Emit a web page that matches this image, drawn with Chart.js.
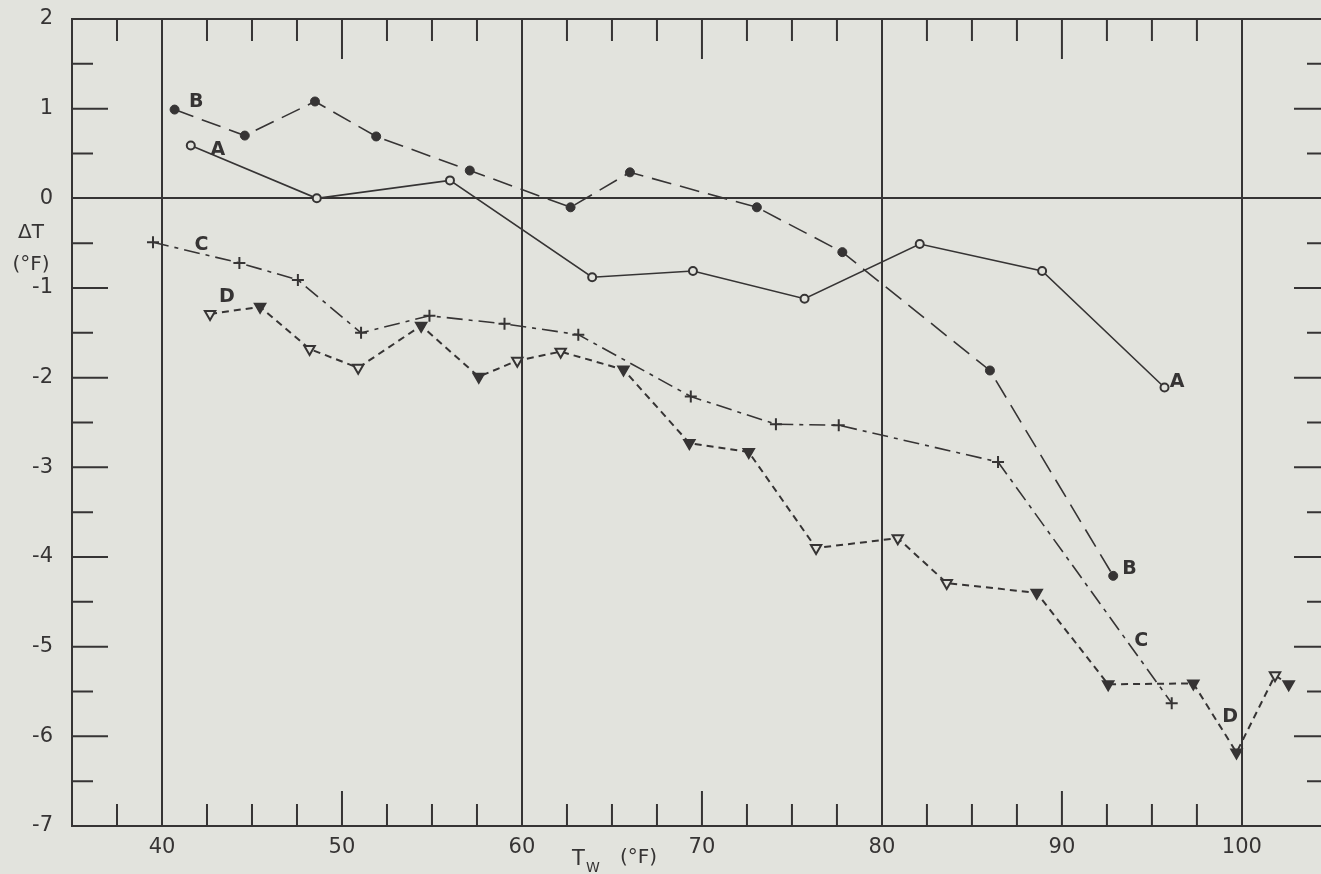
<!DOCTYPE html>
<html>
<head>
<meta charset="utf-8">
<script src="https://cdn.jsdelivr.net/npm/chart.js@4.4.1/dist/chart.umd.min.js"></script>
<style>
html, body { margin: 0; padding: 0; background: #e2e3dd; overflow: hidden; }
canvas { display: block; }
</style>
</head>
<body>
<canvas id="grafico-tw" width="1330" height="874"></canvas>
<script>
// Datos: Tw (°F) vs ΔT (°F)
const tA = [41.6, 48.6, 56.0, 63.9, 69.5, 75.7, 82.1, 88.9, 95.7];
const dA = [0.59, 0.00, 0.20, -0.88, -0.81, -1.12, -0.51, -0.81, -2.11];

const tB = [40.7, 44.6, 48.5, 51.9, 57.1, 62.7, 66.0, 73.05, 77.8, 86.0, 92.85];
const dB = [0.99, 0.70, 1.08, 0.69, 0.31, -0.10, 0.29, -0.10, -0.60, -1.92, -4.21];

const tC = [39.5, 44.3, 47.55, 51.06, 54.86, 59.03, 63.13, 69.38, 74.11, 77.6, 86.45, 96.1];
const dC = [-0.49, -0.72, -0.91, -1.50, -1.31, -1.40, -1.52, -2.21, -2.52, -2.53, -2.94, -5.63];

const tD = [42.67, 45.45, 48.2, 50.9, 54.4, 57.6, 59.74, 62.15, 65.64, 69.3, 72.6, 76.34, 80.88, 83.6, 88.6, 92.57, 97.3, 99.7, 101.84, 102.6];
const dD = [-1.29, -1.21, -1.68, -1.89, -1.42, -1.99, -1.81, -1.71, -1.91, -2.73, -2.83, -3.90, -3.79, -4.29, -4.40, -5.42, -5.41, -6.18, -5.32, -5.42];
// triangulos huecos (true) o rellenos (false)
const huecoD = [true, false, true, true, false, false, true, true, false, false, false, true, true, true, false, false, false, false, true, false];

// letras de cada curva, en coordenadas de datos
const letras = ['B', 'A', 'C', 'D', 'A', 'B', 'C', 'D'];
const letrasX = [41.9, 43.1, 42.2, 43.6, 96.4, 93.75, 94.4, 99.35];
const letrasY = [1.07, 0.54, -0.52, -1.10, -2.05, -4.13, -4.94, -5.78];

const lineasX = [40, 60, 80, 100];
const fondo = '#e2e3dd';
const tinta = '#363434';
const fuente = '"DejaVu Sans", sans-serif';

function puntos(xs, ys) {
    return xs.map((x, i) => ({ x: x, y: ys[i] }));
}

const decorado = {
    id: 'decorado',
    beforeDraw(chart) {
        const c = chart.ctx;
        c.save();
        c.fillStyle = fondo;
        c.fillRect(0, 0, chart.width, chart.height);
        c.restore();
    },
    afterDraw(chart) {
        const c = chart.ctx;
        const a = chart.chartArea;
        const sx = chart.scales.x;
        const sy = chart.scales.y;
        c.save();
        c.strokeStyle = tinta;
        c.lineWidth = 2;
        // borde superior
        c.beginPath();
        c.moveTo(a.left, a.top);
        c.lineTo(a.right, a.top);
        c.stroke();
        // marcas hacia adentro en x
        sx.ticks.forEach(t => {
            const v = t.value;
            if (Math.abs(v / 2.5 - Math.round(v / 2.5)) > 1e-6) return;
            if (v <= sx.min || v >= sx.max) return;
            if (lineasX.includes(v)) return;
            const largo = (v % 10 === 0);
            const px = sx.getPixelForValue(v);
            c.beginPath();
            c.moveTo(px, a.top);
            c.lineTo(px, a.top + (largo ? 40 : 22));
            c.moveTo(px, a.bottom);
            c.lineTo(px, a.bottom - (largo ? 35 : 22));
            c.stroke();
        });
        // marcas hacia adentro en y (izquierda y derecha)
        sy.ticks.forEach(t => {
            const v = t.value;
            if (v <= sy.min || v >= sy.max || v === 0) return;
            const entero = Number.isInteger(v);
            const py = sy.getPixelForValue(v);
            c.beginPath();
            c.moveTo(a.left, py);
            c.lineTo(a.left + (entero ? 36 : 21), py);
            c.moveTo(a.right, py);
            c.lineTo(a.right - (entero ? 28 : 15), py);
            c.stroke();
        });
        // letras de las curvas
        c.fillStyle = tinta;
        c.font = 'bold 19px ' + fuente;
        c.textAlign = 'center';
        c.textBaseline = 'middle';
        letras.forEach((l, i) => {
            c.fillText(l, sx.getPixelForValue(letrasX[i]), sy.getPixelForValue(letrasY[i]));
        });
        // titulos de ejes
        c.font = '20px ' + fuente;
        c.fillText('\u0394T', 31, 233);
        c.fillText('(\u00b0F)', 31, 265);
        c.textAlign = 'left';
        c.font = '21px ' + fuente;
        c.fillText('T', 572, 860);
        c.font = '14px ' + fuente;
        c.fillText('W', 586, 868);
        c.font = '20px ' + fuente;
        c.fillText('(\u00b0F)', 620, 858);
        c.restore();
    }
};

const ctx = document.getElementById('grafico-tw').getContext('2d');
const grafico = new Chart(ctx, {
    type: 'scatter',
    data: {
        datasets: [
            {
                label: 'A',
                data: puntos(tA, dA),
                showLine: true,
                borderColor: tinta,
                borderWidth: 1.6,
                pointStyle: 'circle',
                pointRadius: 4,
                pointBorderWidth: 2,
                pointBackgroundColor: fondo,
                pointBorderColor: tinta
            },
            {
                label: 'B',
                data: puntos(tB, dB),
                showLine: true,
                borderColor: tinta,
                borderWidth: 1.6,
                borderDash: [20, 9],
                pointStyle: 'circle',
                pointRadius: 4.5,
                pointBorderWidth: 1,
                pointBackgroundColor: tinta,
                pointBorderColor: tinta
            },
            {
                label: 'C',
                data: puntos(tC, dC),
                showLine: true,
                borderColor: tinta,
                borderWidth: 1.6,
                borderDash: [16, 6, 4, 6],
                pointStyle: 'cross',
                pointRadius: 6,
                pointBorderWidth: 2,
                pointBorderColor: tinta
            },
            {
                label: 'D',
                data: puntos(tD, dD),
                showLine: true,
                borderColor: tinta,
                borderWidth: 2,
                borderDash: [7, 5],
                pointStyle: 'triangle',
                rotation: 180,
                pointRadius: 6,
                pointBorderWidth: 2,
                pointBackgroundColor: huecoD.map(h => h ? fondo : tinta),
                pointBorderColor: tinta
            }
        ]
    },
    options: {
        responsive: false,
        animation: false,
        devicePixelRatio: 1,
        layout: { padding: { top: 19, right: 0, left: 0, bottom: 0 } },
        elements: { line: { tension: 0 } },
        plugins: {
            legend: { display: false },
            tooltip: { enabled: false }
        },
        scales: {
            x: {
                type: 'linear',
                min: 35,
                max: 104.45,
                afterFit: s => { s.height = 48; s.paddingLeft = 0; s.paddingRight = 0; },
                border: { display: true, color: tinta, width: 2 },
                grid: {
                    drawTicks: false,
                    lineWidth: 2,
                    color: c => (c.tick && lineasX.includes(c.tick.value)) ? tinta : 'rgba(0,0,0,0)'
                },
                ticks: {
                    stepSize: 2.5,
                    autoSkip: false,
                    maxRotation: 0,
                    padding: 9,
                    color: tinta,
                    font: { family: fuente, size: 21 },
                    callback: v => (v % 10 === 0 ? String(v) : '')
                }
            },
            y: {
                type: 'linear',
                min: -7,
                max: 2,
                afterFit: s => { s.width = 72; s.paddingTop = 0; s.paddingBottom = 0; },
                border: { display: true, color: tinta, width: 2 },
                grid: {
                    drawTicks: false,
                    lineWidth: 2,
                    color: c => (c.tick && c.tick.value === 0) ? tinta : 'rgba(0,0,0,0)'
                },
                ticks: {
                    stepSize: 0.5,
                    autoSkip: false,
                    padding: 19,
                    color: tinta,
                    font: { family: fuente, size: 21 },
                    callback: v => (Number.isInteger(v) ? String(v) : '')
                }
            }
        }
    },
    plugins: [decorado]
});
</script>
</body>
</html>
